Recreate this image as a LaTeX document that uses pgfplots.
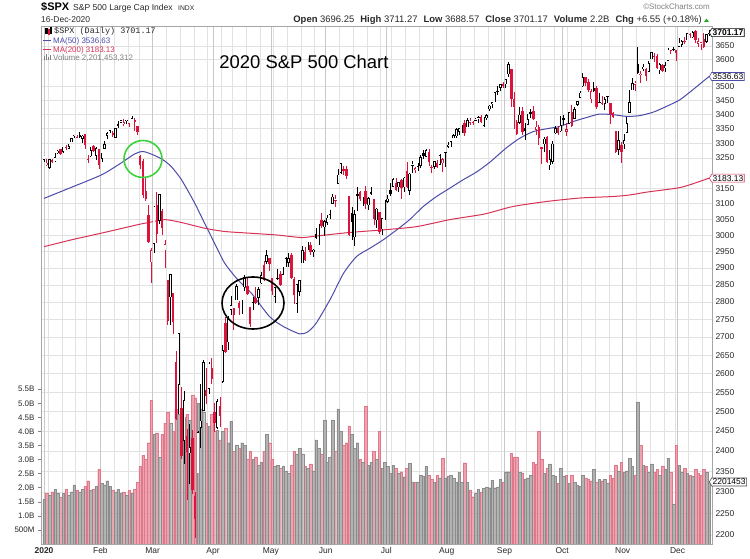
\documentclass[border=0pt]{standalone}
\usepackage{pgfplots}
\pgfplotsset{compat=1.18}
\usepackage{pgfplotstable}
\usepackage{fontspec}
\setmainfont{Liberation Sans}
\setmonofont{Liberation Mono}
\usetikzlibrary{shapes.symbols}

\definecolor{cred}{RGB}{220,20,60}
\definecolor{vred}{RGB}{232,140,156}
\definecolor{vredline}{RGB}{222,120,138}
\definecolor{vgray}{RGB}{160,160,160}
\definecolor{vgrayline}{RGB}{140,140,140}
\definecolor{maA}{RGB}{75,75,170}
\definecolor{maB}{RGB}{215,50,85}
\definecolor{gridc}{RGB}{226,226,226}
\definecolor{gridm}{RGB}{200,200,200}
\definecolor{txt}{RGB}{40,40,40}
\definecolor{upgreen}{RGB}{40,170,40}
\definecolor{ringgreen}{RGB}{60,210,60}

% daily OHLC (index points) and volume (billions), trading days of 2020
\pgfplotstableread{
i open high low close vol
0 3244.7 3258.1 3235.5 3257.85 1.60
1 3226.4 3246.2 3222.3 3234.85 1.80
2 3217.6 3246.8 3214.6 3246.28 1.75
3 3241.9 3244.9 3232.4 3237.18 1.85
4 3238.6 3267.1 3236.7 3253.05 1.95
5 3266.0 3275.6 3263.7 3274.70 1.80
6 3281.0 3282.0 3260.9 3265.35 1.65
7 3271.1 3288.1 3268.4 3288.13 1.80
8 3285.4 3294.3 3277.2 3283.15 1.95
9 3282.3 3298.7 3280.7 3289.29 1.75
10 3302.97 3317.1 3302.8 3316.81 1.85
11 3323.7 3329.9 3318.9 3329.62 2.10
12 3321.0 3329.8 3316.6 3320.79 1.90
13 3330.0 3337.8 3320.0 3321.75 1.85
14 3315.8 3326.9 3301.9 3325.54 1.95
15 3333.1 3333.2 3281.5 3295.47 2.05
16 3247.2 3258.8 3234.5 3243.63 2.25
17 3255.4 3285.8 3253.2 3276.24 1.90
18 3289.5 3293.5 3271.9 3273.40 1.95
19 3256.5 3285.9 3242.8 3283.66 2.05
20 3282.3 3282.3 3214.7 3225.52 2.65
21 3235.7 3268.4 3235.7 3248.92 2.15
22 3280.6 3306.9 3280.6 3297.59 2.10
23 3324.9 3337.6 3313.8 3334.69 2.25
24 3344.9 3347.96 3334.4 3345.78 2.05
25 3335.5 3341.4 3322.1 3327.71 1.90
26 3318.3 3352.3 3317.8 3352.09 1.85
27 3365.9 3375.6 3352.7 3357.75 1.95
28 3370.5 3381.5 3369.7 3379.45 1.80
29 3365.9 3385.1 3360.5 3373.94 1.85
30 3378.1 3380.7 3367.1 3380.16 1.75
31 3369.0 3375.0 3355.6 3370.29 1.90
32 3380.4 3393.5 3378.8 3386.15 1.80
33 3380.5 3389.2 3341.0 3373.23 1.95
34 3360.5 3360.8 3328.5 3337.75 2.20
35 3257.6 3259.8 3214.7 3225.89 2.75
36 3238.9 3246.99 3118.8 3128.21 3.15
37 3139.9 3182.5 3108.99 3116.39 3.00
38 3062.5 3097.1 2977.4 2978.76 3.60
39 2916.9 2959.7 2855.8 2954.22 5.10
40 2974.3 3090.96 2945.2 3090.23 3.90
41 3096.5 3136.7 2976.6 3003.37 3.95
42 3045.8 3130.97 3034.4 3130.12 3.10
43 3075.7 3083.0 2999.8 3023.94 3.90
44 2954.2 2985.9 2901.5 2972.37 4.30
45 2863.9 2863.9 2734.4 2746.56 4.70
46 2813.5 2882.6 2734.0 2882.23 4.30
47 2825.6 2825.6 2707.2 2741.38 4.00
48 2630.9 2660.9 2478.9 2480.64 4.80
49 2569.99 2711.3 2492.4 2711.02 4.60
50 2508.6 2562.98 2380.9 2386.13 4.70
51 2425.7 2553.9 2367.0 2529.19 4.50
52 2436.5 2453.6 2280.5 2398.10 4.60
53 2393.5 2466.97 2319.8 2409.39 4.40
54 2431.9 2453.0 2295.6 2304.92 5.30
55 2290.7 2300.7 2191.9 2237.40 5.20
56 2344.4 2449.7 2344.4 2447.33 5.00
57 2457.8 2571.4 2407.5 2475.56 4.80
58 2501.3 2637.0 2500.7 2630.07 4.70
59 2555.9 2615.9 2520.0 2541.47 4.30
60 2558.98 2631.8 2545.3 2626.65 4.20
61 2614.7 2641.4 2571.2 2584.59 4.60
62 2498.1 2522.8 2447.5 2470.50 4.00
63 2458.5 2533.2 2455.8 2526.90 4.05
64 2514.9 2538.2 2459.96 2488.65 3.70
65 2578.3 2676.9 2574.6 2663.68 4.00
66 2738.7 2756.9 2657.7 2659.41 4.10
67 2685.0 2760.8 2663.3 2749.98 3.60
68 2776.99 2818.6 2762.4 2789.82 4.35
69 2782.5 2782.5 2721.2 2761.63 3.30
70 2805.1 2851.9 2805.1 2846.06 3.50
71 2795.6 2801.9 2761.5 2783.36 3.40
72 2799.3 2806.5 2764.3 2799.55 3.60
73 2842.4 2879.2 2830.9 2874.56 3.50
74 2845.6 2868.98 2820.4 2823.16 3.00
75 2784.8 2785.5 2727.1 2736.56 3.30
76 2787.9 2815.1 2775.95 2799.31 3.00
77 2810.4 2844.9 2794.3 2797.80 3.10
78 2812.6 2842.7 2791.8 2836.74 2.80
79 2854.7 2887.7 2852.9 2878.48 2.90
80 2909.96 2921.2 2860.7 2863.39 3.30
81 2918.5 2954.9 2912.2 2939.51 3.90
82 2930.9 2930.9 2892.5 2912.43 3.60
83 2869.1 2869.1 2821.6 2830.71 3.00
84 2815.0 2844.2 2797.9 2842.74 2.75
85 2868.9 2898.2 2863.6 2868.44 2.80
86 2883.1 2891.1 2847.7 2848.42 2.70
87 2878.3 2901.9 2876.5 2881.19 2.75
88 2908.8 2932.2 2902.9 2929.80 2.60
89 2915.5 2944.3 2903.4 2930.19 2.50
90 2939.5 2945.8 2869.6 2870.12 2.80
91 2865.9 2874.1 2793.2 2820.00 3.30
92 2794.5 2852.8 2766.6 2852.50 3.20
93 2829.9 2865.0 2816.8 2863.70 3.40
94 2913.9 2968.1 2913.9 2953.91 3.20
95 2948.6 2964.2 2922.4 2922.94 2.75
96 2953.6 2980.3 2953.6 2971.61 2.70
97 2969.95 2978.5 2938.6 2948.51 2.85
98 2948.1 2956.8 2933.6 2955.45 2.60
99 3004.1 3021.7 2988.2 2991.77 3.70
100 3015.7 3036.3 2969.8 3036.13 3.40
101 3046.6 3068.7 3023.4 3029.73 3.20
102 3025.2 3049.2 2998.6 3044.31 4.40
103 3038.8 3062.2 3031.5 3055.73 2.90
104 3064.2 3081.1 3051.6 3080.82 3.10
105 3098.9 3130.9 3098.9 3122.87 4.40
106 3111.6 3128.9 3090.4 3112.35 3.30
107 3163.8 3211.7 3163.8 3193.93 4.80
108 3199.9 3233.1 3196.0 3232.39 4.00
109 3213.3 3222.7 3193.1 3207.18 3.50
110 3213.4 3223.3 3181.5 3190.14 3.60
111 3123.5 3123.5 2999.5 3002.10 4.20
112 3071.0 3088.4 2984.5 3041.31 3.90
113 2993.8 3079.8 2965.7 3066.59 3.40
114 3131.0 3153.5 3076.1 3124.74 3.60
115 3136.1 3141.2 3108.0 3113.49 3.00
116 3101.6 3120.0 3093.5 3115.34 2.90
117 3140.3 3155.5 3083.1 3097.74 4.90
118 3094.4 3120.9 3079.4 3117.86 2.80
119 3138.7 3154.9 3127.1 3131.29 2.90
120 3114.4 3115.0 3032.1 3050.33 3.30
121 3046.6 3086.2 3024.0 3083.76 3.00
122 3073.2 3073.7 3004.6 3009.05 4.00
123 3018.6 3053.9 2999.7 3053.24 2.70
124 3050.2 3111.5 3047.8 3100.29 2.90
125 3105.9 3128.4 3101.2 3115.86 2.75
126 3143.6 3165.8 3124.5 3130.01 2.50
127 3155.3 3182.6 3155.3 3179.72 2.80
128 3166.4 3184.2 3142.9 3145.32 2.70
129 3153.1 3171.8 3136.5 3169.94 2.50
130 3176.2 3179.8 3115.7 3152.05 2.57
131 3152.5 3186.8 3136.2 3185.04 2.39
132 3205.1 3235.3 3149.4 3155.22 2.69
133 3141.1 3200.95 3127.7 3197.52 2.87
134 3225.98 3238.3 3200.8 3226.56 2.21
135 3208.4 3220.4 3198.6 3215.57 2.18
136 3224.2 3233.5 3205.7 3224.73 2.21
137 3224.3 3258.6 3215.2 3251.84 2.45
138 3268.5 3277.3 3247.8 3257.30 2.40
139 3254.9 3279.3 3253.1 3276.02 2.75
140 3271.6 3279.99 3222.7 3235.66 2.45
141 3218.6 3227.3 3200.1 3215.63 2.30
142 3219.8 3241.4 3214.3 3239.41 2.20
143 3234.3 3243.7 3216.2 3218.44 2.45
144 3227.2 3264.7 3227.2 3258.44 2.35
145 3231.8 3250.9 3204.1 3246.22 3.05
146 3270.5 3272.2 3220.3 3271.12 2.35
147 3288.3 3302.7 3284.5 3294.61 2.40
148 3289.9 3306.8 3286.7 3306.51 2.45
149 3317.4 3330.8 3317.4 3327.77 2.35
150 3323.2 3351.0 3318.1 3349.16 2.20
151 3340.1 3352.5 3328.7 3351.28 2.55
152 3356.0 3363.3 3335.4 3360.47 2.20
153 3370.3 3381.0 3326.4 3333.69 2.89
154 3355.5 3387.9 3355.5 3380.35 2.20
155 3372.9 3387.2 3363.3 3373.43 1.92
156 3368.7 3378.5 3361.6 3372.85 1.68
157 3380.9 3387.6 3379.2 3381.99 1.80
158 3387.0 3395.1 3370.2 3389.78 1.95
159 3392.5 3399.5 3369.7 3374.85 1.85
160 3360.5 3390.8 3354.7 3385.51 1.98
161 3386.0 3399.96 3379.3 3397.16 2.03
162 3418.1 3432.1 3413.1 3431.28 2.00
163 3435.95 3444.2 3421.1 3443.62 2.27
164 3449.97 3481.1 3444.2 3478.73 2.00
165 3485.1 3501.4 3468.4 3484.55 2.03
166 3494.7 3509.2 3484.3 3508.01 2.30
167 3509.7 3514.8 3493.3 3500.31 2.20
168 3507.4 3528.0 3494.6 3526.65 2.57
169 3543.8 3588.1 3535.2 3580.84 2.57
170 3564.7 3564.9 3427.4 3455.06 3.22
171 3453.6 3479.2 3349.6 3426.96 3.10
172 3371.9 3379.97 3329.3 3331.84 3.10
173 3369.8 3424.8 3366.8 3398.96 2.55
174 3412.6 3425.5 3329.3 3339.19 2.50
175 3352.7 3368.95 3310.5 3340.97 2.30
176 3363.6 3402.9 3363.6 3383.54 2.35
177 3407.7 3419.5 3389.3 3401.20 2.45
178 3411.2 3428.9 3384.5 3385.49 2.90
179 3346.9 3375.2 3328.8 3357.01 2.85
180 3357.4 3362.3 3292.4 3319.47 4.00
181 3285.6 3285.6 3229.1 3281.06 3.00
182 3295.8 3320.3 3270.95 3315.57 2.50
183 3320.1 3323.4 3232.6 3236.92 2.70
184 3226.1 3278.7 3209.5 3246.59 2.85
185 3236.7 3306.9 3228.4 3298.46 2.45
186 3333.9 3360.7 3332.9 3351.60 2.40
187 3350.9 3357.9 3327.5 3335.47 2.15
188 3341.2 3393.6 3340.5 3363.00 2.70
189 3385.9 3397.2 3361.4 3380.80 2.40
190 3338.9 3369.1 3323.7 3348.42 2.45
191 3367.3 3409.6 3367.3 3408.60 2.15
192 3408.7 3431.6 3354.5 3360.97 2.45
193 3384.6 3426.3 3384.6 3419.44 2.20
194 3434.3 3447.3 3428.2 3446.83 2.10
195 3459.7 3482.3 3458.1 3477.14 2.05
196 3500.0 3549.9 3499.6 3534.22 2.45
197 3534.0 3534.0 3500.9 3511.93 2.35
198 3515.5 3527.9 3480.6 3488.67 2.30
199 3453.7 3489.1 3440.9 3483.34 2.25
200 3493.5 3515.8 3480.5 3483.81 2.65
201 3493.7 3502.4 3419.9 3426.92 2.20
202 3439.4 3476.9 3435.7 3443.12 2.30
203 3439.9 3464.9 3433.1 3435.56 2.25
204 3438.5 3460.5 3415.3 3453.49 2.30
205 3464.9 3466.5 3440.5 3465.39 2.15
206 3441.4 3441.4 3364.9 3400.97 2.45
207 3403.2 3409.5 3388.7 3390.68 2.35
208 3342.5 3342.5 3268.9 3271.03 2.80
209 3277.2 3341.1 3259.8 3310.11 2.60
210 3293.6 3304.9 3233.9 3269.96 2.90
211 3296.2 3330.1 3279.7 3310.24 2.55
212 3336.3 3389.5 3336.3 3369.16 2.60
213 3406.5 3486.3 3405.2 3443.44 3.05
214 3485.7 3529.1 3485.7 3510.45 2.75
215 3508.3 3521.6 3484.3 3509.44 2.45
216 3583.0 3645.99 3547.5 3550.50 5.05
217 3543.3 3557.2 3511.9 3545.53 3.50
218 3563.2 3581.2 3557.0 3572.66 2.80
219 3562.7 3569.0 3518.6 3537.01 2.75
220 3552.6 3593.7 3552.6 3585.15 2.55
221 3600.2 3628.5 3600.2 3626.91 2.85
222 3610.3 3623.1 3588.7 3609.53 2.55
223 3612.1 3619.1 3567.3 3567.79 2.65
224 3559.4 3585.2 3543.8 3581.87 2.45
225 3579.3 3581.2 3556.9 3557.54 2.75
226 3566.8 3589.8 3552.8 3577.59 2.65
227 3594.5 3642.3 3594.5 3635.41 3.05
228 3635.5 3635.5 3617.8 3629.65 2.55
229 3638.6 3644.3 3629.3 3638.35 1.40
230 3634.2 3634.2 3594.4 3621.63 3.50
231 3645.9 3678.5 3645.9 3662.45 2.80
232 3653.8 3670.96 3644.8 3669.01 2.55
233 3668.3 3682.7 3657.2 3666.72 2.70
234 3670.9 3699.2 3670.9 3699.12 2.50
235 3694.7 3697.4 3678.9 3691.96 2.45
236 3683.1 3708.5 3678.8 3702.25 2.40
237 3705.98 3712.4 3660.5 3672.82 2.65
238 3659.1 3678.5 3645.2 3668.10 2.50
239 3656.1 3665.9 3633.4 3663.46 2.45
240 3675.3 3697.6 3645.8 3647.49 2.65
241 3666.4 3695.3 3659.6 3694.62 2.55
242 3696.25 3711.27 3688.57 3701.17 2.201453312
}\spx

% up = 1 when the close is not below the previous close
\pgfplotstablecreatecol[
  create col/assign/.code={%
    \ifnum\pgfplotstablerow=0
      \pgfkeyssetvalue{/pgfplots/table/create col/next content}{1}%
    \else
      \pgfmathparse{\thisrow{close}<\prevrow{close} ? 0 : 1}%
      \pgfkeyslet{/pgfplots/table/create col/next content}\pgfmathresult
    \fi
  }]{up}\spx

\pgfplotsset{
  chartframe/.style={
    at={(41bp,15bp)}, anchor=south west,
    width=671bp, height=518bp, scale only axis,
    xmin=-1.1, xmax=243,
  },
  wick/.style={draw=none, mark=none, forget plot,
    error bars/y dir=both, error bars/y explicit, error bars/error mark=none,
    error bars/error bar style={draw=#1, line width=0.7bp}},
  body/.style={draw=none, mark=none, forget plot,
    error bars/y dir=both, error bars/y explicit, error bars/error mark=none,
    error bars/error bar style={draw=#1, line width=2.4bp, line cap=butt}},
  hollow/.style={draw=none, mark=none, forget plot,
    error bars/y dir=both, error bars/y explicit, error bars/error mark=none,
    error bars/error bar style={draw=white, line width=1.1bp, line cap=butt,
      shorten >=0.6bp, shorten <=0.6bp}},
}
\tikzset{
  tag/.style={draw=#1, fill=white, shape=signal, signal to=west,
    signal pointer angle=120, inner sep=1bp, line width=0.6bp,
    font=\fontsize{8.5}{9}\selectfont, text=black, anchor=west},
}

\begin{document}
\begin{tikzpicture}[x=1bp,y=1bp]
\useasboundingbox (0,0) rectangle (750,559);

% price grid (weekly and monthly lines), right scale and month labels
\begin{axis}[chartframe, ymode=log, ymin=2179.6, ymax=3726.6,
  axis line style={draw=none},
  ytick={2200,2250,2300,2350,2400,2450,2500,2550,2600,2650,2700,2750,2800,2850,2900,2950,3000,3050,3100,3150,3250,3300,3350,3400,3450,3500,3600,3650},
  yticklabels={2200,2250,2300,2350,2400,2450,2500,2550,2600,2650,2700,2750,2800,2850,2900,2950,3000,3050,3100,3150,3250,3300,3350,3400,3450,3500,3600,3650},
  yticklabel pos=right,
  yticklabel style={font=\fontsize{8.5}{9}\selectfont, text=txt},
  ymajorgrids, xmajorgrids,
  major grid style={draw=gridc, line width=0.6bp},
  xtick={1.5,6.5,11.5,15.5,25.5,30.5,34.5,44.5,49.5,54.5,59.5,64.5,68.5,73.5,78.5,83.5,88.5,93.5,98.5,107.5,112.5,117.5,122.5,126.5,131.5,136.5,141.5,151.5,156.5,161.5,166.5,171.5,175.5,180.5,185.5,190.5,195.5,200.5,205.5,215.5,220.5,225.5,229.5,234.5,239.5},
  xticklabels={},
  extra x ticks={0,20.5,39.5,61.5,82.5,102.5,124.5,146.5,167.5,188.5,210.5,230.5},
  extra x tick labels={\textbf{2020},Feb,Mar,Apr,May,Jun,Jul,Aug,Sep,Oct,Nov,Dec},
  extra x tick style={major grid style={draw=gridm, line width=0.6bp}},
  xticklabel style={font=\fontsize{8.5}{9}\selectfont, text=txt},
  tick style={draw=none},
]
\addplot[draw=none, forget plot] coordinates {(0,3000)};
\end{axis}

% volume pane
\begin{axis}[chartframe, ymin=0, ymax=18.41,
  axis line style={draw=none},
  xtick=\empty,
  ytick={0.5,1,1.5,2,2.5,3,3.5,4,4.5,5,5.5},
  yticklabels={500M,1.0B,1.5B,2.0B,2.5B,3.0B,3.5B,4.0B,4.5B,5.0B,5.5B},
  ytick pos=left, tick align=outside,
  major tick length=3bp,
  tick style={draw=gray, line width=0.5bp},
  yticklabel style={font=\fontsize{8}{9}\selectfont, text=txt},
]
\addplot[ybar, bar width=0.92, bar shift=0pt, fill=vred, draw=vredline,
  line width=0.35bp, fill opacity=0.8,
  restrict expr to domain={\thisrow{up}}{0:0}]
  table[x=i, y=vol] {\spx};
\addplot[ybar, bar width=0.92, bar shift=0pt, fill=vgray, draw=vgrayline,
  line width=0.35bp, fill opacity=0.8,
  restrict expr to domain={\thisrow{up}}{1:1}]
  table[x=i, y=vol] {\spx};
\end{axis}

% price pane: moving averages and candlesticks
\begin{axis}[chartframe, ymode=log, ymin=2179.6, ymax=3726.6,
  axis line style={draw=gray!70, line width=0.6bp},
  xtick=\empty, ytick=\empty,
]
% MA(50)
\addplot[maA, line width=1bp, smooth, tension=0.4] coordinates {
(0,3117)(10,3153)(21,3194)(28,3233)(33,3264)(36,3272)(39.6,3261)(43.3,3244)
(46.3,3221)(50,3178)(54.8,3102)(58.4,3038)(62,2976)(65.7,2915)(70.5,2865)
(75.5,2825)(82,2758)(87,2730)(93,2709)(96,2715)(99,2739)(104,2806)(109,2885)
(113.7,2935)(118.5,2960)(123.4,2986)(128.3,3017)(133,3049)(138,3091)
(142.8,3123)(147.6,3150)(152.5,3178)(157.3,3203)(162.2,3236)(168,3283)
(173,3317)(178,3340)(183,3350)(187.6,3358)(192.5,3375)(197.3,3389)(202,3401)
(207,3399)(212,3393)(216.7,3396)(221.6,3408)(226.4,3428)(231.3,3452)
(236,3488)(242,3536.63)};
% MA(200)
\addplot[maB, line width=1bp, smooth, tension=0.4] coordinates {
(0,2965)(10,2986)(22,3009)(34,3033)(38,3040)(44,3049)(50,3040)(58.4,3022)
(65.7,3012)(76,3006)(84.6,3001)(93.7,2993)(99.2,2998)(111.3,3009)
(123.4,3017)(135.5,3027)(147.6,3049)(158.5,3064)(162.2,3071)(170.7,3091)
(182.8,3107)(194.9,3118)(207,3123)(213.1,3128)(219.2,3137)(231.3,3152)
(238.5,3172)(242,3183.13)};

% wicks
\addplot[wick=black, restrict expr to domain={\thisrow{up}}{1:1}]
  table[x=i, y=close, y error plus expr=\thisrow{high}-\thisrow{close},
        y error minus expr=\thisrow{close}-\thisrow{low}] {\spx};
\addplot[wick=cred, restrict expr to domain={\thisrow{up}}{0:0}]
  table[x=i, y=close, y error plus expr=\thisrow{high}-\thisrow{close},
        y error minus expr=\thisrow{close}-\thisrow{low}] {\spx};

% filled bodies (close below open)
\addplot[body=black, restrict expr to domain={2*\thisrow{up}+(\thisrow{close}>=\thisrow{open})}{2:2}]
  table[x=i, y=close, y error plus expr=\thisrow{open}-\thisrow{close},
        y error minus expr=0] {\spx};
\addplot[body=cred, restrict expr to domain={2*\thisrow{up}+(\thisrow{close}>=\thisrow{open})}{0:0}]
  table[x=i, y=close, y error plus expr=\thisrow{open}-\thisrow{close},
        y error minus expr=0] {\spx};

% hollow bodies (close above open)
\addplot[body=black, restrict expr to domain={2*\thisrow{up}+(\thisrow{close}>=\thisrow{open})}{3:3}]
  table[x=i, y=close, y error plus expr=0,
        y error minus expr=\thisrow{close}-\thisrow{open}] {\spx};
\addplot[body=cred, restrict expr to domain={2*\thisrow{up}+(\thisrow{close}>=\thisrow{open})}{1:1}]
  table[x=i, y=close, y error plus expr=0,
        y error minus expr=\thisrow{close}-\thisrow{open}] {\spx};
\addplot[hollow, restrict expr to domain={\thisrow{close}>=\thisrow{open}}{1:1}]
  table[x=i, y=close, y error plus expr=0,
        y error minus expr=\thisrow{close}-\thisrow{open}] {\spx};
\end{axis}

% value tags on the right edge
\node[tag=black, font=\bfseries\fontsize{8.5}{9}\selectfont] at (709,526.4) {3701.17};
\node[tag=maA] at (709,482.5) {3536.63};
\node[tag=maB] at (709,380.8) {3183.13};
\node[tag=black!70] at (709,77) {2201453};

% legend
\begin{scope}[font=\fontsize{8}{9}\selectfont]
\fill[black] (44.5,524.5) rectangle (45.7,530.5);
\draw[black, line width=0.4bp] (46.2,525.5) rectangle (47.4,531);
\fill[cred] (48.4,524) rectangle (49.6,529.5);
\draw[black, line width=0.4bp] (50.2,526) rectangle (51.4,531.5);
\node[anchor=base west, font=\ttfamily\fontsize{8.5}{9}\selectfont, text=txt, inner sep=0] at (54,525) {\$SPX (Daily) 3701.17};
\draw[maA, line width=1.3bp] (43,518.5) -- (51,518.5);
\node[anchor=base west, text=maA, inner sep=0] at (53,515.5) {MA(50) 3536.63};
\draw[maB, line width=1.3bp] (43,509.5) -- (51,509.5);
\node[anchor=base west, text=maB, inner sep=0] at (53,506.5) {MA(200) 3183.13};
\fill[gray] (44,499) rectangle (45.2,503);
\fill[gray] (46,499) rectangle (47.2,505);
\fill[gray] (48,499) rectangle (49.2,502);
\fill[gray] (50,499) rectangle (51.2,504);
\node[anchor=base west, text=gray, inner sep=0] at (53,498.5) {Volume 2,201,453,312};
\end{scope}

% header
\node[anchor=base west, inner sep=0, font=\bfseries\fontsize{11}{12}\selectfont] at (41,548) {\$SPX};
\node[anchor=base west, inner sep=0, font=\fontsize{8.6}{10}\selectfont, text=txt] at (73,548) {S\&P 500 Large Cap Index};
\node[anchor=base west, inner sep=0, font=\fontsize{6.8}{8}\selectfont, text=txt] at (178,548) {INDX};
\node[anchor=base west, inner sep=0, font=\fontsize{8.5}{10}\selectfont, text=txt] at (41,536) {16-Dec-2020};
\node[anchor=base east, inner sep=0, font=\fontsize{9.5}{11}\selectfont, text=txt] at (702,536)
  {\textbf{Open} 3696.25\hspace{6bp}\textbf{High} 3711.27\hspace{6bp}\textbf{Low} 3688.57\hspace{6bp}\textbf{Close} 3701.17\hspace{6bp}\textbf{Volume} 2.2B\hspace{6bp}\textbf{Chg} +6.55 (+0.18\%)};
\fill[upgreen] (704,537) -- (709,537) -- (706.5,540.5) -- cycle;
\node[anchor=base east, inner sep=0, font=\fontsize{8}{9}\selectfont, text=gray] at (710,549) {\textcopyright StockCharts.com};

% annotations
\node[font=\fontsize{18.5}{20}\selectfont] at (304,497) {2020 S\&P 500 Chart};
\draw[ringgreen, line width=1.6bp] (143,400) ellipse [x radius=19, y radius=18.5];
\draw[black, line width=1.6bp] (253,256) ellipse [x radius=31, y radius=26];
\end{tikzpicture}
\end{document}
